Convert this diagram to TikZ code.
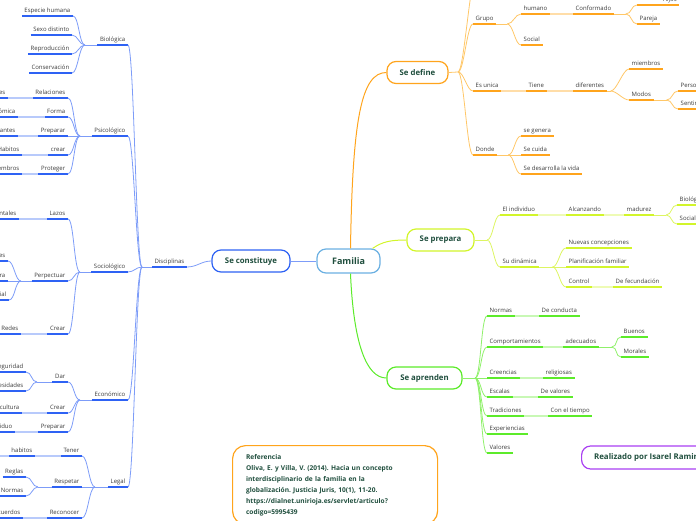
\documentclass[tikz,border=0pt]{standalone}
\usepackage{fontspec}
\setmainfont{Open Sans}
\frenchspacing
\definecolor{txt}{HTML}{3A3A3A}
\definecolor{dkg}{HTML}{1F4E3D}
\definecolor{blu}{HTML}{2E62F4}
\definecolor{bluc}{HTML}{7D9CF8}
\definecolor{blul}{HTML}{B8CAFB}
\definecolor{org}{HTML}{FFA41C}
\definecolor{orgc}{HTML}{FFC768}
\definecolor{orgl}{HTML}{FFDDA8}
\definecolor{ylw}{HTML}{D2F52A}
\definecolor{ylwc}{HTML}{DDF562}
\definecolor{ylwl}{HTML}{EEFBB5}
\definecolor{grn}{HTML}{5CEB2A}
\definecolor{grnc}{HTML}{8FF06A}
\definecolor{grnl}{HTML}{C8F8B5}
\definecolor{pur}{HTML}{A93FF2}
\definecolor{famb}{HTML}{6BB0E2}

\tikzset{
  leaf/.style={font=\fontsize{6}{7}\selectfont, text=txt, inner xsep=2.5pt, inner ysep=2.2pt,
    text height=4.4pt, text depth=1.5pt},
  ul/.style={append after command={(\tikzlastnode.south west) edge[draw=#1,line width=1.6pt] (\tikzlastnode.south east)}},
  lnode/.style={leaf, anchor=south east, ul=#1},
  rnode/.style={leaf, anchor=south west, ul=#1},
  box/.style={draw=#1, line width=1.2pt, rounded corners=9pt, fill=white, text=dkg,
    font=\fontsize{7.8}{9}\selectfont\bfseries, minimum height=22pt},
  br/.style={to path={.. controls ([xshift=6pt]\tikztostart) and ([xshift=-6pt]\tikztotarget) .. (\tikztotarget)}},
  cn/.style={draw=#1, line width=0.8pt},
  lk/.style={draw=#1, line width=1.6pt},
}

\begin{document}
\begin{tikzpicture}[x=1pt,y=-1pt]
  \useasboundingbox (0,0) rectangle (696,520);
  \clip (0,0) rectangle (696,520);

  % central boxes
  \node[box=famb, minimum width=63pt, minimum height=24pt, font=\fontsize{9}{10}\selectfont\bfseries] (fam) at (348.5,261) {Familia};
  \node[box=blu, minimum width=78pt] (sec) at (251,261) {Se constituye};
  \node[box=org, minimum width=61pt] (sdf) at (417.5,72.5) {Se define};
  \node[box=ylw, minimum width=67pt] (spr) at (440.5,240) {Se prepara};
  \node[box=grn, minimum width=75pt] (sap) at (424.5,378) {Se aprenden};
  \draw[cn=bluc, line width=1pt] (sec.east) -- (fam.west);
  \draw[cn=org, line width=1pt] ([xshift=2pt]fam.north) .. controls +(2,-130) and +(-25,0) .. (sdf.west);
  \draw[cn=ylw, line width=1pt] ([xshift=-8pt]fam.north east) .. controls +(10,-7) and +(-15,0) .. (spr.west);
  \draw[cn=grn, line width=1pt] ([xshift=2pt]fam.south) .. controls +(3,70) and +(-20,0) .. (sap.west);

  % se constituye
  \node[lnode=blu] (dis) at (187,267) {Disciplinas};
  \coordinate (jdis) at (142,267);
  \draw[cn=bluc] (dis.south east) to[out=0,in=180] (sec.west);
  \draw[cn=bluc] (jdis) -- (dis.south west);

  \node[lnode=blu] (bio) at (128,45) {Biológica};
  \node[lnode=blu] (esp) at (73,16) {Especie humana};
  \node[lnode=blu] (sex) at (72,35) {Sexo distinto};
  \node[lnode=blu] (rep) at (72,54) {Reproducción};
  \node[lnode=blu] (cons) at (72,73) {Conservación};
  \coordinate (jbio) at (85,45);
  \foreach \n in {esp,sex,rep,cons} \draw[cn=bluc] (\n.south east) to[br] (jbio);
  \draw[cn=bluc] (jbio) -- (bio.south west);

  \node[lnode=blu] (psi) at (128,136) {Psicológico};
  \node[lnode=blu] (rela) at (68,98) {Relaciones};
  \node[lnode=blu] (form) at (68,117) {Forma};
  \node[lnode=blu] (prep) at (68,136) {Preparar};
  \node[lnode=blu] (crea) at (68,155) {crear};
  \node[lnode=blu] (prot) at (68,174) {Proteger};
  \node[lnode=blu] (emoc) at (8,98) {Emocionales};
  \node[lnode=blu] (econ) at (18,117) {Económica};
  \node[lnode=blu] (inte) at (18,136) {Integrantes};
  \node[lnode=blu] (habi) at (22,155) {Buenos Habitos};
  \node[lnode=blu] (miem) at (22,174) {Miembros};
  \foreach \a/\b in {emoc/rela,econ/form,inte/prep,habi/crea,miem/prot}
    \draw[lk=blul] (\a.south east) -- (\b.south west);
  \coordinate (jpsi) at (80,136);
  \foreach \n in {rela,form,prep,crea,prot} \draw[cn=bluc] (\n.south east) to[br] (jpsi);
  \draw[cn=bluc] (jpsi) -- (psi.south west);

  \node[lnode=blu] (soc) at (128,272) {Sociológico};
  \node[lnode=blu] (lazo) at (68,219) {Lazos};
  \node[lnode=blu] (perp) at (68,281) {Perpectuar};
  \node[lnode=blu] (crer) at (68,334) {Crear};
  \node[lnode=blu] (pare) at (19,219) {Parentales};
  \node[lnode=blu] (cost) at (8,261) {Costumbres};
  \node[lnode=blu] (cult) at (8,281) {Cultura};
  \node[lnode=blu] (clas) at (9,300) {Clase social};
  \node[lnode=blu] (rede) at (21,334) {Redes};
  \foreach \a/\b in {pare/lazo,rede/crer} \draw[lk=blul] (\a.south east) -- (\b.south west);
  \coordinate (jper) at (21,281);
  \foreach \n in {cost,cult,clas} \draw[cn=bluc] (\n.south east) to[br] (jper);
  \draw[cn=bluc] (jper) -- (perp.south west);
  \coordinate (jsoc) at (80,272);
  \foreach \n in {lazo,perp,crer} \draw[cn=bluc] (\n.south east) to[br] (jsoc);
  \draw[cn=bluc] (jsoc) -- (soc.south west);

  \node[lnode=blu] (eco) at (128,400) {Económico};
  \node[lnode=blu] (dar) at (68,382) {Dar};
  \node[lnode=blu] (crec) at (68,413) {Crear};
  \node[lnode=blu] (prec) at (68,432) {Preparar};
  \node[lnode=blu] (segu) at (26,372) {Seguridad};
  \node[lnode=blu] (nece) at (26,391) {Necesidades};
  \node[lnode=blu] (uncu) at (22,413) {Una cultura};
  \node[lnode=blu] (indi) at (15,432) {Individuo};
  \foreach \a/\b in {uncu/crec,indi/prec} \draw[lk=blul] (\a.south east) -- (\b.south west);
  \coordinate (jdar) at (37,382);
  \foreach \n in {segu,nece} \draw[cn=bluc] (\n.south east) to[br] (jdar);
  \draw[cn=bluc] (jdar) -- (dar.south west);
  \coordinate (jeco) at (80,400);
  \foreach \n in {dar,crec,prec} \draw[cn=bluc] (\n.south east) to[br] (jeco);
  \draw[cn=bluc] (jeco) -- (eco.south west);

  \node[lnode=blu] (leg) at (128,487) {Legal};
  \node[lnode=blu] (tene) at (82,456) {Tener};
  \node[lnode=blu] (resp) at (82,487) {Respetar};
  \node[lnode=blu] (reco) at (82,518) {Reconocer};
  \node[lnode=blu] (habt) at (35,456) {habitos};
  \node[lnode=blu] (regl) at (26,477) {Reglas};
  \node[lnode=blu] (norm) at (26,496) {Normas};
  \node[lnode=blu] (acue) at (23,518) {Acuerdos};
  \coordinate (habl) at (-6,456);
  \draw[lk=blul] (habl) -- (habt.south west);
  \foreach \a/\b in {habt/tene,acue/reco} \draw[lk=blul] (\a.south east) -- (\b.south west);
  \coordinate (jres) at (38,487);
  \foreach \n in {regl,norm} \draw[cn=bluc] (\n.south east) to[br] (jres);
  \draw[cn=bluc] (jres) -- (resp.south west);
  \coordinate (jleg) at (95,487);
  \foreach \n in {tene,resp,reco} \draw[cn=bluc] (\n.south east) to[br] (jleg);
  \draw[cn=bluc] (jleg) -- (leg.south west);

  \foreach \n in {bio,psi,soc,eco,leg} \draw[cn=bluc] (\n.south east) to[br] (jdis);

  % se define
  \coordinate (jsdf) at (458,72);
  \coordinate (topc) at (476,-24);
  \draw[cn=orgc] (sdf.east) -- (jsdf);
  \draw[cn=orgc] (jsdf) to[br] (topc);
  \node[rnode=org] (gru) at (473,24) {Grupo};
  \node[rnode=org] (hum) at (521,14) {humano};
  \node[rnode=org] (conf) at (573,14) {Conformado};
  \node[rnode=org, text width=37pt, align=right] (hij) at (637,5) {Hijos};
  \node[rnode=org] (parj) at (637,24) {Pareja};
  \node[rnode=org] (soci) at (521,45) {Social};
  \node[rnode=org] (esu) at (473,91) {Es unica};
  \node[rnode=org] (tien) at (526,91) {Tiene};
  \node[rnode=org] (dife) at (573,91) {diferentes};
  \node[rnode=org] (mbro) at (629,69) {miembros};
  \node[rnode=org] (modo) at (629,100) {Modos};
  \node[rnode=org] (pers) at (678,91) {Personas};
  \node[rnode=org] (sent) at (678,109) {Sentimientos};
  \node[rnode=org] (don) at (473,155) {Donde};
  \node[rnode=org] (gene) at (521,136) {se genera};
  \node[rnode=org] (cuid) at (521,155) {Se cuida};
  \node[rnode=org] (desa) at (521,174) {Se desarrolla la vida};
  \foreach \n in {gru,esu,don} \draw[cn=orgc] (jsdf) to[br] (\n.south west);
  \foreach \a/\b in {hum/conf,esu/tien,tien/dife} \draw[lk=orgl] (\a.south east) -- (\b.south west);
  \coordinate (jgru) at ([xshift=11pt]gru.south east);
  \coordinate (jconf) at ([xshift=12pt]conf.south east);
  \coordinate (jdife) at ([xshift=4pt]dife.south east);
  \coordinate (jmodo) at ([xshift=13pt]modo.south east);
  \coordinate (jdon) at ([xshift=11pt]don.south east);
  \foreach \p in {gru,conf,dife,modo,don} \draw[cn=orgc] (\p.south east) -- (j\p);
  \foreach \n in {hum,soci} \draw[cn=orgc] (jgru) to[br] (\n.south west);
  \foreach \n in {hij,parj} \draw[cn=orgc] (jconf) to[br] (\n.south west);
  \foreach \n in {mbro,modo} \draw[cn=orgc] (jdife) to[br] (\n.south west);
  \foreach \n in {pers,sent} \draw[cn=orgc] (jmodo) to[br] (\n.south west);
  \foreach \n in {gene,cuid,desa} \draw[cn=orgc] (jdon) to[br] (\n.south west);

  % se prepara
  \coordinate (jspr) at (487,240);
  \draw[cn=ylwc] (spr.east) -- (jspr);
  \node[rnode=ylw] (indv) at (500,215) {El individuo};
  \node[rnode=ylw] (alca) at (566,215) {Alcanzando};
  \node[rnode=ylw] (madu) at (624,215) {madurez};
  \node[rnode=ylw] (biol) at (677,205) {Biológicamente};
  \node[rnode=ylw] (socm) at (677,224) {Socialmente};
  \node[rnode=ylw] (dina) at (500,267) {Su dinámica};
  \node[rnode=ylw] (nuev) at (566,248) {Nuevas concepciones};
  \node[rnode=ylw] (plan) at (566,267) {Planificación familiar};
  \node[rnode=ylw] (ctrl) at (566,287) {Control};
  \node[rnode=ylw] (fecu) at (613,287) {De fecundación};
  \foreach \n in {indv,dina} \draw[cn=ylwc] (jspr) to[br] (\n.south west);
  \foreach \a/\b in {indv/alca,alca/madu,ctrl/fecu} \draw[lk=ylwl] (\a.south east) -- (\b.south west);
  \coordinate (jmadu) at ([xshift=12pt]madu.south east);
  \coordinate (jdina) at ([xshift=13pt]dina.south east);
  \foreach \p in {madu,dina} \draw[cn=ylwc] (\p.south east) -- (j\p);
  \foreach \n in {biol,socm} \draw[cn=ylwc] (jmadu) to[br] (\n.south west);
  \foreach \n in {nuev,plan,ctrl} \draw[cn=ylwc] (jdina) to[br] (\n.south west);

  % se aprenden
  \coordinate (jsap) at (475,378);
  \draw[cn=grnc] (sap.east) -- (jsap);
  \node[rnode=grn] (nrma) at (487,316) {Normas};
  \node[rnode=grn] (cond) at (539,316) {De conducta};
  \node[rnode=grn] (comp) at (487,347) {Comportamientos};
  \node[rnode=grn] (adec) at (563,347) {adecuados};
  \node[rnode=grn] (buen) at (621,337) {Buenos};
  \node[rnode=grn] (mora) at (621,357) {Morales};
  \node[rnode=grn] (cree) at (487,378) {Creencias};
  \node[rnode=grn] (reli) at (543,378) {religiosas};
  \node[rnode=grn] (esca) at (487,397) {Escalas};
  \node[rnode=grn] (valr) at (538,397) {De valores};
  \node[rnode=grn] (trad) at (487,416) {Tradiciones};
  \node[rnode=grn] (tiem) at (548,416) {Con el tiempo};
  \node[rnode=grn] (expe) at (487,434) {Experiencias};
  \node[rnode=grn] (valo) at (487,453) {Valores};
  \foreach \n in {nrma,comp,cree,esca,trad,expe,valo} \draw[cn=grnc] (jsap) to[br] (\n.south west);
  \foreach \a/\b in {nrma/cond,comp/adec,cree/reli,esca/valr,trad/tiem}
    \draw[lk=grnl] (\a.south east) -- (\b.south west);
  \coordinate (jadec) at ([xshift=13pt]adec.south east);
  \draw[cn=grnc] (adec.south east) -- (jadec);
  \foreach \n in {buen,mora} \draw[cn=grnc] (jadec) to[br] (\n.south west);

  % notes
  \node[draw=org, line width=1.2pt, rounded corners=13pt, anchor=north west, inner xsep=13.5pt, inner ysep=8.5pt,
    text width=178pt, align=left, text=dkg, font=\fontsize{6.6}{11}\selectfont\bfseries] (refe) at (232,445)
    {Referencia\\
     Oliva, E. y Villa, V. (2014). Hacia un concepto\\
     interdisciplinario de la familia en la\\
     globalización. Justicia Juris, 10(1), 11-20.\\
     https://dialnet.unirioja.es/servlet/articulo?\\
     codigo=5995439};
  \node[draw=pur, line width=1.2pt, rounded corners=9pt, anchor=west, minimum height=23pt, inner xsep=12.5pt,
    text=dkg, font=\fontsize{7.9}{9}\selectfont\bfseries] (auto) at (581,457.5) {Realizado por Isarel Ramirez};
\end{tikzpicture}
\end{document}
